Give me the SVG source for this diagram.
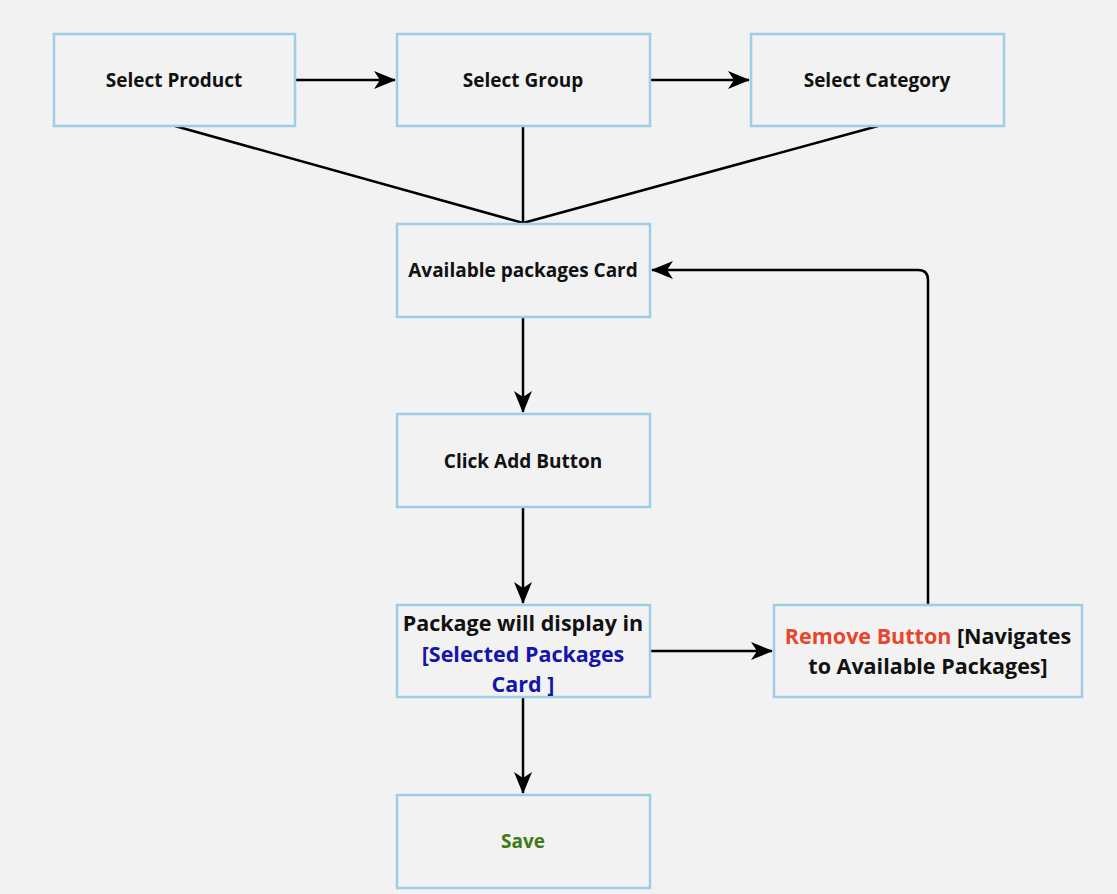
<svg xmlns="http://www.w3.org/2000/svg" width="1117" height="894" viewBox="0 0 1117 894">
<defs>
<marker id="ah" viewBox="0 0 22 18" refX="21" refY="9" markerWidth="22" markerHeight="18" markerUnits="userSpaceOnUse" orient="auto">
<path d="M0,0 L22,9 L0,18 L6,9 Z" fill="#000"/>
</marker>
</defs>
<style>
.box{fill:#f2f2f2;stroke:#9ecde6;stroke-width:2.5}
.t{font-family:"Open Sans","Noto Sans","DejaVu Sans",sans-serif;font-weight:bold;fill:#111;text-anchor:middle}
.s{font-size:19px}
.l{font-size:21.5px}
.c{fill:none;stroke:#000;stroke-width:2.5}
</style>
<rect x="0" y="0" width="1117" height="894" fill="#f2f2f2"/>
<g id="connectors">
<path class="c" d="M296,80 L395,80" marker-end="url(#ah)"/>
<path class="c" d="M651,80 L749,80" marker-end="url(#ah)"/>
<path class="c" d="M175,126 L523,223"/>
<path class="c" d="M523,126 L523,223"/>
<path class="c" d="M878,126 L523,223"/>
<path class="c" d="M523,318 L523,412" marker-end="url(#ah)"/>
<path class="c" d="M523,508 L523,603" marker-end="url(#ah)"/>
<path class="c" d="M523,698 L523,793" marker-end="url(#ah)"/>
<path class="c" d="M651,651 L772,651" marker-end="url(#ah)"/>
<path class="c" d="M928,604 L928,280 Q928,270 918,270 L652,270" marker-end="url(#ah)"/>
</g>
<g id="n1"><rect class="box" x="54" y="34" width="241" height="92"/><text class="t s" x="174" y="87">Select Product</text></g>
<g id="n2"><rect class="box" x="397" y="34" width="253" height="92"/><text class="t s" x="523" y="87">Select Group</text></g>
<g id="n3"><rect class="box" x="751" y="34" width="253" height="92"/><text class="t s" x="877" y="87">Select Category</text></g>
<g id="n4"><rect class="box" x="397" y="224" width="253" height="93"/><text class="t s" x="523" y="277">Available packages Card</text></g>
<g id="n5"><rect class="box" x="397" y="414" width="253" height="93"/><text class="t s" x="523" y="468">Click Add Button</text></g>
<g id="n6"><rect class="box" x="397" y="605" width="253" height="92"/>
<text class="t l" x="523" y="631">Package will display in</text>
<text class="t l" x="523" y="662" style="fill:#1515a8">[Selected Packages</text>
<text class="t l" x="523" y="692" style="fill:#1515a8">Card ]</text></g>
<g id="n7"><rect class="box" x="774" y="605" width="308" height="92"/>
<text class="t l" x="928" y="644"><tspan style="fill:#e8452c">Remove Button</tspan> [Navigates</text>
<text class="t l" x="928" y="674">to Available Packages]</text></g>
<g id="n8"><rect class="box" x="397" y="795" width="253" height="93"/><text class="t s" x="523" y="848" style="fill:#3f7a12">Save</text></g>
</svg>
